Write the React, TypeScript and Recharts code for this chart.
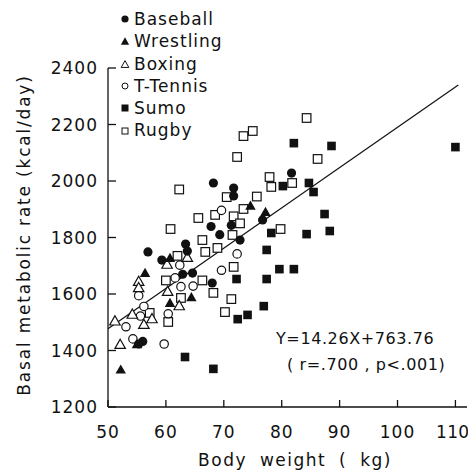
import { ScatterChart, Scatter, XAxis, YAxis, ReferenceLine } from 'recharts';

const FONT = '"DejaVu Sans", sans-serif';
const INK = '#111';

const xTicks = [50, 60, 70, 80, 90, 100, 110];
const yTicks = [1200, 1400, 1600, 1800, 2000, 2200, 2400];

// [body weight kg, basal metabolic rate kcal/day]
const baseball = [
  [81.7, 2028], [68.2, 1993], [71.7, 1975], [71.7, 1947], [67.8, 1839], [69.3, 1810],
  [71.3, 1843], [72.8, 1791], [76.7, 1862], [56.9, 1749], [59.3, 1720], [63.4, 1777],
  [63.7, 1752], [62.9, 1670], [64.6, 1674], [68.0, 1639], [56.0, 1432], [55.3, 1423],
];
const wrestling = [
  [74.6, 1910], [77.2, 1888], [60.7, 1725], [56.4, 1672], [60.7, 1566], [64.4, 1586],
  [52.2, 1330], [55.0, 1420],
];
const boxing = [
  [60.2, 1703], [63.7, 1727], [55.3, 1642], [55.3, 1620], [60.3, 1607], [51.2, 1502],
  [54.2, 1526], [56.2, 1490], [57.6, 1510], [52.1, 1419], [62.3, 1556],
];
const tTennis = [
  [69.6, 1896], [62.4, 1702], [61.6, 1657], [62.6, 1626], [64.7, 1628], [55.3, 1594],
  [56.2, 1556], [55.6, 1522], [53.1, 1484], [54.3, 1441], [59.7, 1423], [60.4, 1530],
  [69.6, 1684], [72.3, 1742],
];
const sumo = [
  [110, 2120], [82.1, 2134], [88.6, 2124], [84.7, 1993], [85.5, 1961], [80.2, 1982],
  [87.4, 1883], [88.3, 1823], [84.3, 1812], [78.2, 1816], [77.4, 1756], [79.6, 1688],
  [82.1, 1688], [77.4, 1653], [72.2, 1653], [76.9, 1557], [72.4, 1511], [74.1, 1526],
  [63.3, 1377], [68.2, 1335],
];
const rugby = [
  [84.3, 2223], [73.4, 2159], [75.0, 2177], [72.3, 2085], [86.2, 2078], [77.9, 2014],
  [78.2, 1979], [81.8, 1993], [75.7, 1945], [70.5, 1943], [79.8, 1830], [68.5, 1880],
  [71.7, 1875], [73.4, 1901], [72.8, 1850], [71.5, 1809], [68.9, 1763], [66.8, 1749],
  [65.6, 1869], [66.3, 1791], [62.3, 1970], [60.8, 1830], [62.0, 1735], [60.0, 1648],
  [66.3, 1648], [68.2, 1604], [71.3, 1582], [70.2, 1536], [71.7, 1696], [62.6, 1586],
  [57.2, 1533], [60.4, 1501],
];

const slope = 14.26;
const intercept = 763.76;
const fitFrom = 50;
const fitTo = 110.5;

const toPoints = (rows: number[][]) => rows.map(([x, y]) => ({ x, y }));

const FilledCircle = (p: any) => <circle cx={p.cx} cy={p.cy} r={4.6} fill={INK} />;
const OpenCircle = (p: any) => <circle cx={p.cx} cy={p.cy} r={4.2} fill="#fff" stroke={INK} strokeWidth={1.2} />;
const triPath = (cx: number, cy: number, s: number) =>
  `M${cx},${cy - s * 0.62} L${cx + s * 0.55},${cy + s * 0.35} L${cx - s * 0.55},${cy + s * 0.35} Z`;
const FilledTriangle = (p: any) => <path d={triPath(p.cx, p.cy, 9.5)} fill={INK} />;
const OpenTriangle = (p: any) => <path d={triPath(p.cx, p.cy, 9.5)} fill="#fff" stroke={INK} strokeWidth={1.2} />;
const FilledSquare = (p: any) => <rect x={p.cx - 4.3} y={p.cy - 4.3} width={8.6} height={8.6} fill={INK} />;
const OpenSquare = (p: any) => <rect x={p.cx - 4.3} y={p.cy - 4.3} width={8.6} height={8.6} fill="#fff" stroke={INK} strokeWidth={1.2} />;

const legendItems = [
  { name: 'Baseball', icon: <circle cx={6} cy={6} r={3.6} fill={INK} /> },
  { name: 'Wrestling', icon: <path d={triPath(6, 7, 7.5)} fill={INK} /> },
  { name: 'Boxing', icon: <path d={triPath(6, 7, 7)} fill="none" stroke={INK} strokeWidth={1} /> },
  { name: 'T-Tennis', icon: <circle cx={6} cy={6} r={3} fill="none" stroke={INK} strokeWidth={1} /> },
  { name: 'Sumo', icon: <rect x={2.5} y={2.5} width={7} height={7} fill={INK} /> },
  { name: 'Rugby', icon: <rect x={3} y={3} width={6} height={6} fill="none" stroke={INK} strokeWidth={1} /> },
];

const tickStyle = { fontSize: 17, fill: INK, fontFamily: FONT, letterSpacing: 1 };

// last x label sits against the right edge, so anchor it at its end
const XTick = (p: any) => {
  const last = p.payload.value === xTicks[xTicks.length - 1];
  return (
    <text
      x={last ? p.x + 14 : p.x}
      y={p.y}
      dy="0.71em"
      textAnchor={last ? 'end' : 'middle'}
      fontSize={17}
      fontFamily={FONT}
      letterSpacing={last ? 0.3 : 1}
      fill={INK}
    >
      {p.payload.value}
    </text>
  );
};

export default function App() {
  return (
    <div style={{ position: 'absolute', left: 0, top: 0, width: 468, height: 472, background: '#fff', fontFamily: FONT, color: INK }}>
      <ScatterChart width={468} height={472} margin={{ top: 68, right: 1, bottom: 64, left: 107 }}>
        <XAxis
          type="number"
          dataKey="x"
          domain={[50, 112]}
          ticks={xTicks}
          height={1}
          stroke={INK}
          tickSize={-7}
          tickMargin={26}
          tick={XTick}
          axisLine={{ stroke: INK, strokeWidth: 1.3 }}
          tickLine={{ stroke: INK, strokeWidth: 1.3 }}
        />
        <YAxis
          type="number"
          dataKey="y"
          domain={[1200, 2400]}
          ticks={yTicks}
          width={1}
          stroke={INK}
          tickSize={-8}
          tickMargin={18}
          tick={tickStyle}
          axisLine={{ stroke: INK, strokeWidth: 1.3 }}
          tickLine={{ stroke: INK, strokeWidth: 1.3 }}
        />
        <ReferenceLine
          segment={[
            { x: fitFrom, y: slope * fitFrom + intercept },
            { x: fitTo, y: slope * fitTo + intercept },
          ]}
          stroke={INK}
          strokeWidth={1.2}
          ifOverflow="visible"
        />
        <Scatter name="Rugby" data={toPoints(rugby)} shape={OpenSquare} isAnimationActive={false} />
        <Scatter name="T-Tennis" data={toPoints(tTennis)} shape={OpenCircle} isAnimationActive={false} />
        <Scatter name="Boxing" data={toPoints(boxing)} shape={OpenTriangle} isAnimationActive={false} />
        <Scatter name="Sumo" data={toPoints(sumo)} shape={FilledSquare} isAnimationActive={false} />
        <Scatter name="Wrestling" data={toPoints(wrestling)} shape={FilledTriangle} isAnimationActive={false} />
        <Scatter name="Baseball" data={toPoints(baseball)} shape={FilledCircle} isAnimationActive={false} />
      </ScatterChart>

      {/* legend */}
      <div style={{ position: 'absolute', left: 119, top: 8, fontSize: 17, letterSpacing: 1, lineHeight: '22.3px' }}>
        {legendItems.map((it) => (
          <div key={it.name} style={{ display: 'flex', alignItems: 'center', height: 22.3 }}>
            <svg width={12} height={12} style={{ marginRight: 3 }}>{it.icon}</svg>
            <span>{it.name}</span>
          </div>
        ))}
      </div>

      {/* regression annotation */}
      <div style={{ position: 'absolute', left: 276, top: 326, fontSize: 16, letterSpacing: 0.6, lineHeight: '26px', whiteSpace: 'pre' }}>
        <div>{`Y=${slope}X+${intercept}`}</div>
        <div style={{ paddingLeft: 11 }}>{'( r=.700 , p<.001)'}</div>
      </div>

      {/* axis titles */}
      <div style={{ position: 'absolute', left: 295, top: 460, transform: 'translate(-50%, -50%)', fontSize: 17, letterSpacing: 1.5, wordSpacing: 6, whiteSpace: 'pre' }}>
        Body weight ( kg)
      </div>
      <div style={{ position: 'absolute', left: 24, top: 235, transform: 'translate(-50%, -50%) rotate(-90deg)', fontSize: 17, letterSpacing: 1.8, whiteSpace: 'pre' }}>
        Basal metabolic rate (kcal/day)
      </div>
    </div>
  );
}
